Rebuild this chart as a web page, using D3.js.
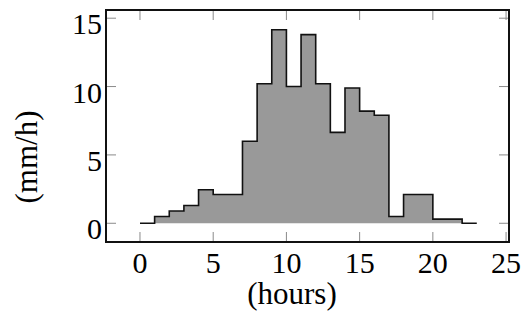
<!DOCTYPE html>
<html>
<head>
<meta charset="utf-8">
<script src="https://cdn.jsdelivr.net/npm/d3@7"></script>
<style>
  body { margin: 0; background: #fff; }
  svg text { font-family: "Liberation Serif", "DejaVu Serif", serif; fill: #000; }
</style>
</head>
<body>
<div id="chart"></div>
<script>
// hourly bins (start hour) and rain rate (mm/h)
const binStarts = [0, 1, 2, 3, 4, 5, 6, 7, 8, 9, 10, 11, 12, 13, 14, 15, 16, 17, 18, 19, 20, 21, 22];
const rainRate = [0, 0.5, 0.9, 1.3, 2.45, 2.1, 2.1, 6.0, 10.2, 14.15, 10.0, 13.8, 10.2, 6.65, 9.9, 8.2, 7.9, 0.5, 2.1, 2.1, 0.3, 0.3, 0];
const binEnd = 23;
const xTicks = [0, 5, 10, 15, 20, 25];
const yTicks = [0, 5, 10, 15];

const W = 528, H = 325;
const box = { left: 106, right: 509, top: 10, bottom: 242 };

const svg = d3.select("#chart").append("svg")
  .attr("width", W)
  .attr("height", H);

const x = d3.scaleLinear().domain([-2.32, 25.2]).range([box.left, box.right]);
const y = d3.scaleLinear().domain([-1.37, 15.6]).range([box.bottom, box.top]);

// points for a step-after path, closing at the last bin edge
const pts = binStarts.map((s, i) => ({ x: s, v: rainRate[i] }));
pts.push({ x: binEnd, v: rainRate[rainRate.length - 1] });

// filled area under the steps
svg.append("path")
  .datum(pts)
  .attr("fill", "#999999")
  .attr("d", d3.area().curve(d3.curveStepAfter)
    .x(d => x(d.x)).y0(y(0)).y1(d => y(d.v)));

// step outline
svg.append("path")
  .datum(pts)
  .attr("fill", "none")
  .attr("stroke", "#111")
  .attr("stroke-width", 1.6)
  .attr("d", d3.line().curve(d3.curveStepAfter)
    .x(d => x(d.x)).y(d => y(d.v)));

// inward ticks on all four sides
const tickLen = 10;
const ticks = svg.append("g").attr("stroke", "#8a8a8a").attr("stroke-width", 1);
xTicks.forEach(t => {
  ticks.append("line").attr("x1", x(t)).attr("x2", x(t))
    .attr("y1", box.bottom).attr("y2", box.bottom - tickLen);
  ticks.append("line").attr("x1", x(t)).attr("x2", x(t))
    .attr("y1", box.top).attr("y2", box.top + tickLen);
});
yTicks.forEach(t => {
  ticks.append("line").attr("x1", box.left).attr("x2", box.left + tickLen)
    .attr("y1", y(t)).attr("y2", y(t));
  ticks.append("line").attr("x1", box.right).attr("x2", box.right - tickLen)
    .attr("y1", y(t)).attr("y2", y(t));
});

// frame
svg.append("rect")
  .attr("x", box.left).attr("y", box.top)
  .attr("width", box.right - box.left).attr("height", box.bottom - box.top)
  .attr("fill", "none").attr("stroke", "#111").attr("stroke-width", 2);

// tick labels
svg.append("g").selectAll("text")
  .data(xTicks).enter().append("text")
  .attr("x", d => x(d))
  .attr("y", 273)
  .attr("text-anchor", "middle")
  .style("font-size", "30px")
  .text(d => d);

svg.append("g").selectAll("text")
  .data(yTicks).enter().append("text")
  .attr("x", 102)
  .attr("y", d => y(d) + 16)
  .attr("text-anchor", "end")
  .style("font-size", "30px")
  .text(d => d);

// axis titles
svg.append("text")
  .attr("x", 292)
  .attr("y", 304)
  .attr("text-anchor", "middle")
  .style("font-size", "31px")
  .text("(hours)");

svg.append("text")
  .attr("transform", "translate(37,157) rotate(-90)")
  .attr("text-anchor", "middle")
  .style("font-size", "31px")
  .text("(mm/h)");
</script>
</body>
</html>
